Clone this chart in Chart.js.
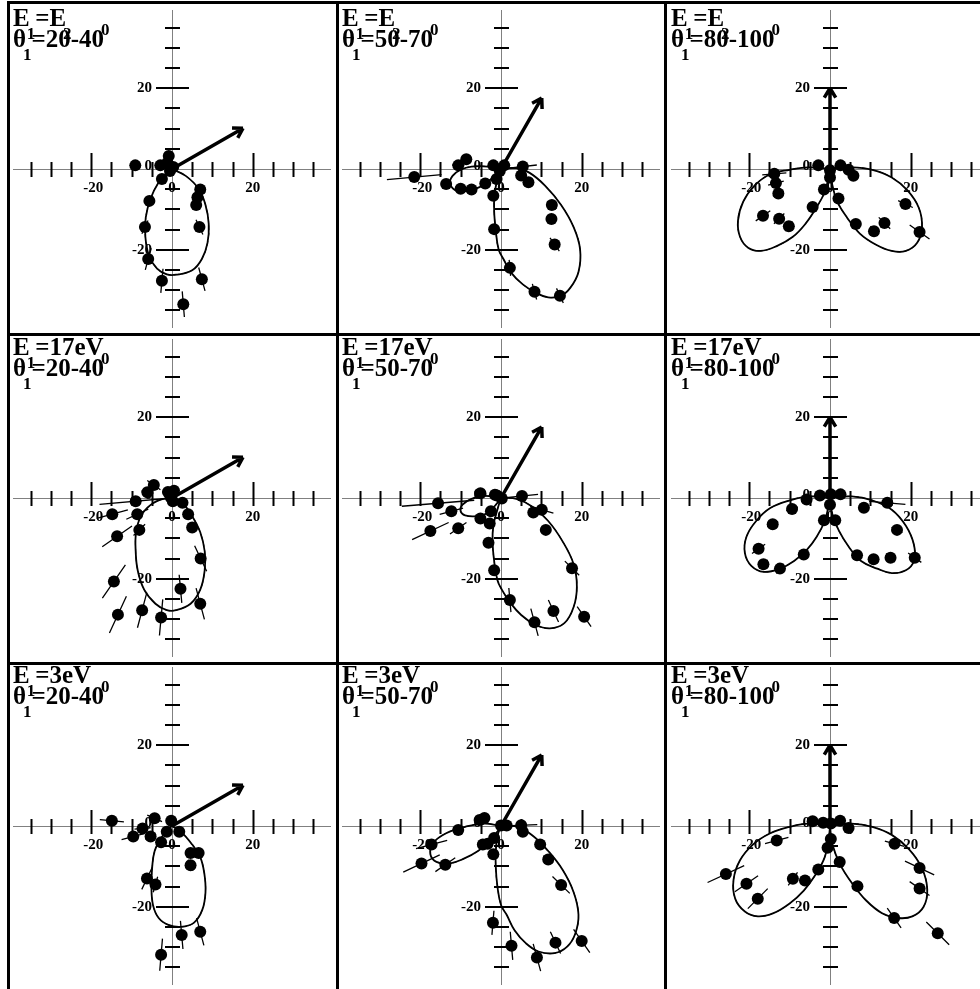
<!DOCTYPE html>
<html>
<head>
<meta charset="utf-8">
<script src="https://cdn.jsdelivr.net/npm/chart.js@4.4.0/dist/chart.umd.min.js"></script>
<style>
  html, body { margin: 0; padding: 0; background: #fff; }
  #wrap { position: relative; width: 980px; height: 989px; overflow: hidden; background: #fff; }
  #wrap canvas { position: absolute; }
  .vl { position: absolute; width: 3px; background: #000; z-index: 2; }
  .hl { position: absolute; height: 3px; background: #000; z-index: 2; }
</style>
</head>
<body>
<div id="wrap"></div>
<script>
// axis ticks (every 5 units), long ticks at +-20, labelled values
const tickVals = [-35, -30, -25, -20, -15, -10, -5, 5, 10, 15, 20, 25, 30, 35];
const majorTicks = [-20, 20];
const labelVals = [-20, 0, 20];
const labelText = ["-20", "0", "20"];

// panel titles
const rowTitles = [
  [["E", 0], ["1", 1], ["=E", 0], ["2", 1]],
  [["E", 0], ["1", 1], ["=17eV", 0]],
  [["E", 0], ["1", 1], ["=3eV", 0]],
];
const colAngles = ["20-40", "50-70", "80-100"];
// arrow tip (x, y) per column
const arrowTips = [[17.6, 10.1], [10.1, 17.6], [0, 20]];

// ---- theory lobes, [x, y] ----
const lobe1 = [[0,0],[3.4,-1.7],[6.6,-4.9],[8.3,-8.9],[9.1,-13.6],[8.8,-18.3],[7.4,-22.3],[5.0,-25.1],[1.0,-26.2],[-1.3,-26.1],[-3.7,-24.7],[-5.7,-21.5],[-6.6,-16.8],[-6.5,-12.0],[-5.3,-7.3],[-3.3,-3.3],[-1.3,-0.9],[0,0]];
const lobe2a = [[0,0],[3.8,0.2],[7.0,-0.9],[10.9,-4.1],[14.9,-8.9],[18.0,-14.4],[19.6,-19.9],[19.2,-25.5],[17.2,-29.4],[14.9,-31.4],[11.7,-31.8],[8.5,-30.6],[5.4,-28.6],[2.6,-25.8],[0.6,-22.3],[-0.6,-19.9],[-1.3,-15.2],[-1.7,-10.4],[-1.6,-6.5],[-0.9,-2.5],[0,0]];
const lobe2b = [[0,0],[-3.3,0.6],[-7.3,0.6],[-10.0,-0.2],[-12.0,-1.7],[-12.6,-3.7],[-10.8,-5.5],[-8.1,-5.3],[-5.3,-4.5],[-2.9,-2.9],[-0.9,-0.9],[0,0]];
const lobe3a = [[0,0],[-5.3,0.4],[-10.0,-0.2],[-14.8,-1.3],[-18.7,-4.1],[-21.5,-8.1],[-22.8,-12.8],[-22.3,-16.8],[-20.3,-19.5],[-17.2,-20.3],[-13.2,-19.1],[-9.2,-16.8],[-6.1,-13.6],[-3.4,-9.6],[-1.3,-5.7],[-0.3,-1.7],[0,0]];
const lobe3b = [[0,0],[5.4,0.4],[10.5,-0.2],[15.3,-2.1],[19.2,-5.3],[22.0,-9.6],[22.8,-14.4],[21.6,-18.3],[18.8,-20.3],[15.3,-20.3],[11.3,-18.7],[7.4,-16.0],[4.2,-12.0],[1.8,-8.1],[0.6,-4.1],[0,0]];
const lobe4 = [[0,0],[2.6,-1.3],[5.0,-4.5],[7.0,-8.5],[8.1,-13.2],[8.1,-17.9],[7.0,-22.7],[4.6,-26.2],[1.0,-27.8],[-1.3,-27.8],[-4.1,-26.2],[-6.9,-22.7],[-8.5,-17.9],[-9.0,-13.2],[-8.9,-8.5],[-7.7,-4.5],[-5.3,-1.7],[-2.1,-0.2],[0,0]];
const lobe5a = [[0,0],[3.8,-0.2],[7.7,-2.1],[11.7,-5.7],[15.3,-10.8],[18.0,-16.4],[18.8,-21.9],[18.0,-27.0],[15.7,-31.0],[12.1,-32.3],[8.5,-31.4],[5.0,-29.0],[2.2,-25.8],[0.2,-22.7],[-0.9,-20.3],[-1.7,-15.6],[-2.1,-10.8],[-1.9,-6.9],[-0.9,-2.9],[0,0]];
const lobe5b = [[0,0],[-4.1,0.5],[-7.3,-0.2],[-9.6,-1.7],[-10.0,-3.3],[-8.9,-4.3],[-6.1,-4.5],[-3.3,-3.7],[-1.3,-1.7],[0,0]];
const lobe6a = [[0,0],[-5.3,0.4],[-10.0,-0.6],[-14.8,-2.5],[-18.3,-5.7],[-20.7,-9.6],[-21.1,-13.6],[-19.5,-16.8],[-16.4,-18.3],[-12.4,-17.5],[-8.9,-15.6],[-5.7,-12.8],[-3.3,-9.6],[-1.3,-5.7],[-0.4,-2.1],[0,0]];
const lobe6b = [[0,0],[5.4,0.4],[10.5,-0.6],[15.3,-2.9],[18.8,-6.9],[20.8,-11.6],[20.8,-15.6],[18.8,-17.9],[15.3,-18.6],[11.7,-17.5],[7.7,-15.6],[4.6,-12.0],[2.2,-8.1],[0.6,-4.1],[0,0]];
const lobe7 = [[0,0],[2.2,-1.4],[5.0,-4.6],[7.0,-7.7],[8.0,-11.7],[8.3,-16.4],[7.5,-20.8],[5.4,-24.0],[2.2,-25.0],[-0.9,-24.5],[-3.3,-22.8],[-4.7,-19.6],[-5.1,-14.9],[-4.9,-10.1],[-4.3,-6.2],[-2.9,-3.4],[-1.3,-1.0],[0,0]];
const lobe8a = [[0,0],[4.2,-0.2],[8.1,-2.6],[11.7,-6.2],[15.3,-10.9],[18.0,-16.4],[19.2,-22.0],[18.4,-26.7],[16.4,-29.9],[13.3,-31.5],[9.3,-31.1],[6.2,-29.1],[3.4,-25.9],[1.4,-22.0],[0,-19.6],[-0.9,-14.9],[-1.3,-10.1],[-1.3,-6.2],[-0.8,-2.2],[0,0]];
const lobe8b = [[0,0],[-4.1,0.6],[-8.9,-0.2],[-13.6,-1.8],[-16.8,-4.2],[-17.5,-7.0],[-16.0,-8.9],[-12.8,-9.3],[-9.2,-8.1],[-5.7,-6.2],[-2.9,-3.8],[-0.9,-1.4],[0,0]];
const lobe9a = [[0,0],[-5.3,0.6],[-10.0,-0.2],[-14.8,-1.8],[-19.1,-4.6],[-22.3,-8.5],[-23.9,-13.3],[-23.5,-18.0],[-21.1,-21.2],[-17.9,-22.4],[-14.0,-21.6],[-10.0,-19.2],[-6.5,-16.0],[-3.6,-12.1],[-1.3,-7.7],[-0.3,-3.0],[0,0]];
const lobe9b = [[0,0],[5.4,0.6],[10.5,-0.2],[15.3,-2.2],[19.6,-5.8],[22.8,-10.5],[24.1,-15.7],[23.2,-20.0],[20.4,-22.4],[16.8,-22.8],[12.9,-21.6],[8.9,-18.4],[5.4,-14.1],[2.6,-9.7],[0.6,-4.6],[0,0]];

// ---- measured points, [x, y, radial error] ----
const pts1 = [[-9.1,0.9,0],[-2.9,0.9,0.8],[-0.8,3.2,0.8],[-1.2,1.5,0.5],[-0.5,-0.5,0.5],[-2.5,-2.5,0.8],[0.3,0.5,0.5],[7.0,-5.1,1.5],[6.3,-7.0,1.2],[6.0,-8.9,1.2],[6.8,-14.4,2.0],[-5.6,-7.9,1.5],[-6.7,-14.4,1.8],[-5.9,-22.3,2.8],[-2.5,-27.7,3.0],[7.4,-27.3,3.0],[2.8,-33.5,3.2]];
const pts2 = [[-21.5,-2.0,6.8],[-13.6,-3.7,1.0],[-10.6,0.9,1.5],[-8.6,2.4,1.0],[-10.0,-4.9,1.0],[-7.3,-5.1,0.8],[-3.9,-3.6,0.8],[-1.9,0.9,0.5],[0.8,0.9,0.5],[-0.3,-0.5,0.5],[-1.1,-2.5,0.5],[-1.9,-6.6,0.8],[-1.7,-14.9,1.0],[2.2,-24.5,2.0],[8.3,-30.4,2.0],[14.6,-31.4,2.0],[13.3,-18.7,2.0],[12.5,-12.4,1.2],[12.6,-8.9,1.5],[5.4,0.6,3.5],[5.0,-1.6,0.8],[6.8,-3.3,0.8]];
const pts3 = [[-13.8,-1.2,3.0],[-13.4,-3.5,2.0],[-12.8,-6.1,1.5],[-16.6,-11.6,2.2],[-12.6,-12.3,1.8],[-10.2,-14.2,1.5],[-4.3,-9.4,0.8],[-1.5,-5.1,0.5],[0,-2.1,0.5],[0,-0.3,0],[-2.9,0.9,0.5],[2.6,0.9,0.5],[4.6,-0.2,1.0],[5.8,-1.7,0.8],[2.1,-7.3,0.8],[6.4,-13.6,1.0],[10.9,-15.4,1.5],[13.5,-13.4,2.0],[18.7,-8.7,2.0],[22.2,-15.6,3.0]];
const pts4 = [[-4.5,3.2,2.0],[-6.1,1.4,1.5],[-9.0,-0.8,9.0],[-14.8,-4.0,4.0],[-8.6,-4.0,3.0],[-13.6,-9.5,4.5],[-8.1,-7.9,2.0],[-14.4,-20.7,5.0],[-13.4,-28.9,5.0],[-7.4,-27.8,4.5],[-2.7,-29.6,4.5],[2.1,-22.5,3.5],[7.0,-26.2,4.0],[7.1,-15.0,3.5],[5.0,-7.3,0.8],[4.0,-4.0,0.8],[2.6,-1.2,0.8],[-1.0,1.5,0.5],[0.5,1.8,0.5],[-0.3,0.2,0.5],[0.2,-0.8,0.5]];
const pts5 = [[-15.6,-1.3,9.0],[-12.3,-3.3,3.0],[-17.5,-8.2,5.0],[-10.6,-7.5,2.5],[-5.1,1.2,1.5],[-5.1,-5.1,1.0],[-2.5,-3.3,1.0],[-2.8,-6.3,1.0],[-3.1,-11.1,1.0],[-1.7,-17.9,1.2],[2.2,-25.3,3.0],[8.3,-30.8,3.5],[13.0,-28.0,3.0],[20.6,-29.4,3.0],[17.6,-17.4,2.5],[11.1,-7.9,1.0],[8.0,-3.6,1.0],[10.1,-2.9,3.0],[5.2,0.5,4.0],[-1.5,0.8,0.5],[0.2,-0.1,0.5],[-1.0,0.6,0.5]];
const pts6 = [[-5.8,-0.4,0.8],[-9.4,-2.7,1.5],[-14.2,-6.5,1.5],[-17.7,-12.6,2.0],[-16.5,-16.4,1.5],[-12.4,-17.5,1.5],[-6.5,-14.0,1.0],[-1.5,-5.5,0.5],[1.3,-5.5,0.5],[0,-1.7,0.5],[-2.5,0.6,0.5],[0.2,0.9,0.5],[2.6,0.9,0.5],[8.4,-2.4,1.0],[14.2,-1.2,4.5],[16.6,-7.9,1.5],[21.0,-14.8,2.0],[15.0,-14.8,1.5],[10.8,-15.2,1.2],[6.7,-14.2,1.0]];
const pts7 = [[-14.9,1.3,3.0],[-4.3,1.9,2.0],[-7.3,-0.6,2.0],[-9.6,-2.6,3.0],[-5.3,-2.6,1.5],[-2.7,-4.0,1.0],[-1.3,-1.4,0.8],[-0.2,1.3,0.5],[1.8,-1.4,0.5],[4.6,-6.7,1.0],[6.6,-6.7,1.2],[4.6,-9.7,1.5],[-6.2,-13.0,3.0],[-4.1,-14.5,2.0],[2.4,-27.0,3.5],[7.0,-26.2,3.5],[-2.7,-31.9,4.0]];
const pts8 = [[-17.2,-4.6,4.0],[-19.7,-9.3,5.0],[-13.8,-9.6,3.0],[-10.6,-1.0,1.0],[-5.3,1.5,1.0],[-4.1,2.0,1.0],[-4.5,-4.6,1.0],[-3.3,-4.4,1.0],[-1.7,-3.0,1.0],[-1.9,-7.0,1.0],[0,0.1,0.5],[1.4,0.1,0.5],[5.0,0.2,4.0],[5.4,-1.4,1.0],[9.7,-4.6,1.0],[11.7,-8.3,1.5],[14.9,-14.6,3.0],[-2.0,-24.0,3.0],[2.6,-29.7,3.5],[8.9,-32.6,3.5],[13.5,-28.9,3.0],[20.0,-28.5,3.5]];
const pts9 = [[-13.2,-3.6,3.0],[-25.8,-11.9,5.0],[-20.7,-14.3,3.5],[-17.9,-18.0,3.5],[-9.2,-13.1,2.0],[-6.2,-13.5,1.0],[-2.9,-10.8,1.0],[-0.6,-5.4,0.8],[0.2,-3.2,0.8],[-4.3,1.2,1.0],[-1.7,0.8,0.5],[0.2,0.6,0.5],[2.5,1.3,0.5],[4.6,-0.5,1.0],[2.4,-8.9,1.0],[6.8,-14.9,1.0],[16.0,-4.4,2.5],[22.2,-10.4,4.0],[22.2,-15.5,3.0],[15.9,-22.8,3.0],[26.7,-26.6,4.0]];

const panels = [
  { lobes: [lobe1], pts: pts1 },
  { lobes: [lobe2a, lobe2b], pts: pts2 },
  { lobes: [lobe3a, lobe3b], pts: pts3 },
  { lobes: [lobe4], pts: pts4 },
  { lobes: [lobe5a, lobe5b], pts: pts5 },
  { lobes: [lobe6a, lobe6b], pts: pts6 },
  { lobes: [lobe7], pts: pts7 },
  { lobes: [lobe8a, lobe8b], pts: pts8 },
  { lobes: [lobe9a, lobe9b], pts: pts9 },
];

// layout: where each panel's origin sits on the page
const OX = [172, 501, 830];
const OY = [169, 498, 826];
const HALF = 165, RANGE = 39.4;
const SERIF = '"Liberation Serif", "Times New Roman", serif';

function drawRich(ctx, x, y, parts) {
  parts.forEach(([t, k], i) => {
    ctx.font = k ? "bold 17px " + SERIF : "bold 25px " + SERIF;
    const dy = k === 1 ? 13 : k === 2 ? -12 : 0;
    ctx.fillText(t, x, y + dy);
    x += ctx.measureText(t).width;
    const next = parts[i + 1];
    if (next && next[1] && !k) x -= 3;
  });
}

const decor = {
  id: "decor",
  beforeDatasetsDraw(chart, args, o) {
    const { ctx, scales: { x, y } } = chart;
    const x0 = x.getPixelForValue(0), y0 = y.getPixelForValue(0);
    ctx.save();
    // axis lines through the origin
    ctx.strokeStyle = "#808080";
    ctx.lineWidth = 1;
    ctx.beginPath();
    ctx.moveTo(x.left, Math.round(y0) + 0.5); ctx.lineTo(x.right, Math.round(y0) + 0.5);
    ctx.moveTo(Math.round(x0) + 0.5, y.top); ctx.lineTo(Math.round(x0) + 0.5, y.bottom);
    ctx.stroke();
    // ticks
    ctx.strokeStyle = "#000";
    ctx.lineWidth = 2;
    ctx.beginPath();
    tickVals.forEach(v => {
      const big = majorTicks.includes(v);
      const px = Math.round(x.getPixelForValue(v)) + 0.5;
      ctx.moveTo(px, y0 - (big ? 16 : 7)); ctx.lineTo(px, y0 + 8);
      const py = Math.round(y.getPixelForValue(v));
      ctx.moveTo(x0 - (big ? 16 : 7), py); ctx.lineTo(x0 + (big ? 17 : 8), py);
    });
    ctx.stroke();
    // tick labels
    ctx.fillStyle = "#000";
    ctx.font = "bold 15px " + SERIF;
    ctx.textBaseline = "middle";
    labelVals.forEach((v, i) => {
      ctx.textAlign = "center";
      ctx.fillText(labelText[i], x.getPixelForValue(v) + (v < 0 ? 2 : 0), y0 + 19);
      ctx.textAlign = "right";
      ctx.fillText(labelText[i], x0 - 20, y.getPixelForValue(v) - (v === 0 ? 3 : 0));
    });
    // radial error bars
    ctx.strokeStyle = "#000";
    ctx.lineWidth = 1.3;
    ctx.beginPath();
    o.pts.forEach(([px, py, e]) => {
      const r = Math.hypot(px, py);
      if (!e || r < 0.05) return;
      const ux = px / r, uy = py / r;
      ctx.moveTo(x.getPixelForValue(px - ux * e), y.getPixelForValue(py - uy * e));
      ctx.lineTo(x.getPixelForValue(px + ux * e), y.getPixelForValue(py + uy * e));
    });
    ctx.stroke();
    ctx.restore();
  },
  afterDatasetsDraw(chart, args, o) {
    const { ctx, scales: { x, y } } = chart;
    const x0 = x.getPixelForValue(0), y0 = y.getPixelForValue(0);
    const tx = x.getPixelForValue(o.tip[0]), ty = y.getPixelForValue(o.tip[1]);
    ctx.save();
    // direction arrow
    ctx.strokeStyle = "#000";
    ctx.lineWidth = 3.5;
    ctx.lineCap = "butt";
    ctx.beginPath();
    ctx.moveTo(x0, y0); ctx.lineTo(tx, ty);
    const a = Math.atan2(ty - y0, tx - x0);
    [0.55, -0.55].forEach(d => {
      ctx.moveTo(tx, ty);
      ctx.lineTo(tx - 11 * Math.cos(a + d), ty - 11 * Math.sin(a + d));
    });
    ctx.stroke();
    // title
    ctx.fillStyle = "#000";
    ctx.textAlign = "left";
    ctx.textBaseline = "alphabetic";
    drawRich(ctx, 6, 22, o.title1);
    drawRich(ctx, 6, 43, o.title2);
    ctx.restore();
  }
};

const wrap = document.getElementById("wrap");
panels.forEach((p, i) => {
  const r = Math.floor(i / 3), c = i % 3;
  const cv = document.createElement("canvas");
  cv.width = 2 * HALF; cv.height = 2 * HALF;
  cv.style.left = (OX[c] - HALF) + "px";
  cv.style.top = (OY[r] - HALF) + "px";
  cv.style.width = 2 * HALF + "px"; cv.style.height = 2 * HALF + "px";
  wrap.appendChild(cv);

  const datasets = [];
  p.lobes.forEach(l => {
    const data = l.map(([x, y]) => ({ x, y }));
    datasets.push({ data, showLine: true, tension: 0.4, borderColor: "#000",
      borderWidth: 1.8, pointRadius: 0, fill: false });
    datasets.push({ data, showLine: true, tension: 0.4, borderColor: "#000",
      borderWidth: 1, borderDash: [5, 3], pointRadius: 0, fill: false });
  });
  datasets.push({ data: p.pts.map(([x, y]) => ({ x, y })), showLine: false,
    pointRadius: 6, pointBackgroundColor: "#000", pointBorderWidth: 0 });

  new Chart(cv.getContext("2d"), {
    type: "scatter",
    data: { datasets },
    options: {
      responsive: false, animation: false, events: [], devicePixelRatio: 1,
      layout: { padding: 0 },
      plugins: {
        legend: { display: false }, tooltip: { enabled: false },
        decor: {
          pts: p.pts, tip: arrowTips[c], title1: rowTitles[r],
          title2: [["\u03b8", 0], ["1", 1], ["=" + colAngles[c], 0], ["0", 2]],
        },
      },
      scales: {
        x: { type: "linear", min: -RANGE, max: RANGE, display: false },
        y: { type: "linear", min: -RANGE, max: RANGE, display: false },
      },
    },
    plugins: [decor],
  });
});

// panel frame lines
[[8, 1], [337, 1], [665, 1]].forEach(([l, t]) => {
  const d = document.createElement("div");
  d.className = "vl"; d.style.left = (l - 1) + "px"; d.style.top = t + "px";
  d.style.height = (989 - t) + "px";
  wrap.appendChild(d);
});
[1, 333, 662].forEach(t => {
  const d = document.createElement("div");
  d.className = "hl"; d.style.top = t + "px"; d.style.left = "7px";
  d.style.width = "973px";
  wrap.appendChild(d);
});
</script>
</body>
</html>
